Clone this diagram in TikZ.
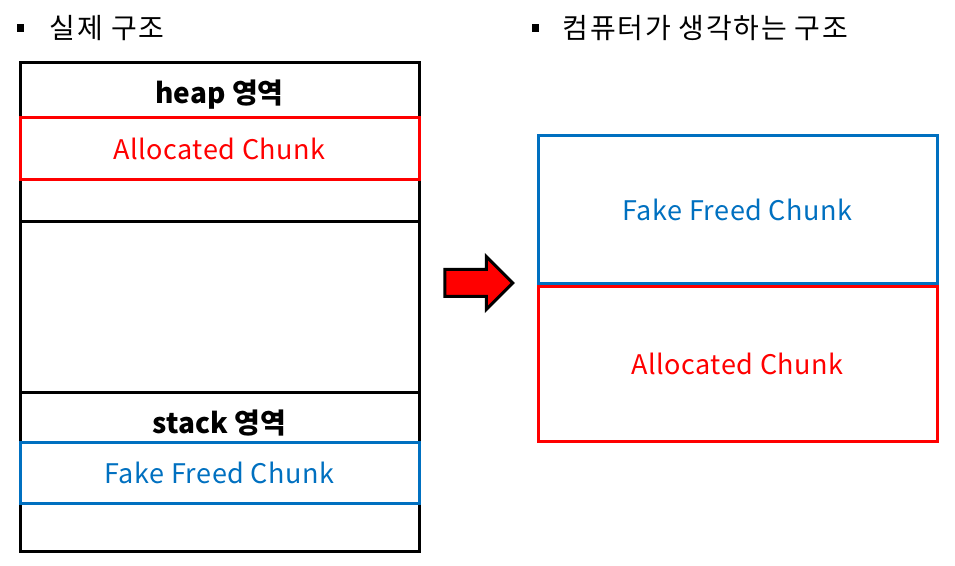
\documentclass[tikz,border=0pt]{standalone}
\usepackage{fontspec}
\setmainfont{Noto Sans CJK KR}
\usetikzlibrary{positioning,shapes.arrows}
\definecolor{chunkred}{HTML}{FF0000}
\definecolor{chunkblue}{HTML}{0070C0}
\tikzset{
  frame/.style={draw=black,line width=3pt,minimum width=399pt,inner sep=0pt},
  region/.style={font=\fontsize{28}{32}\selectfont\bfseries,inner sep=0pt},
  chunk/.style={line width=3pt,minimum width=399pt,inner sep=0pt,
                font=\fontsize{27}{32}\selectfont\addfontfeatures{LetterSpace=2}},
  redchunk/.style={chunk,draw=chunkred,text=chunkred},
  bluechunk/.style={chunk,draw=chunkblue,text=chunkblue},
  bullet/.style={fill=black,minimum width=7pt,minimum height=8pt,inner sep=0pt},
  title/.style={font=\fontsize{28}{32}\selectfont\addfontfeatures{LetterSpace=6},
                inner sep=0pt,anchor=west},
  sep/.style={draw=black,line width=3pt}
}

\begin{document}
\begin{tikzpicture}[x=1pt,y=1pt]
    \useasboundingbox (0,0) rectangle (955,565);
    % titles
    \node[bullet] (b1) at (20,537) {};
    \node[title,right=26pt of b1] (t1) {실제 구조};
    \node[bullet] (b2) at (535,537) {};
    \node[title,right=24pt of b2] (t2) {컴퓨터가 생각하는 구조};
    % real layout
    \node[frame,minimum height=488pt] (mem) at (219.5,258) {};
    \node[region] (heap) at (219.5,470) {heap 영역};
    \node[redchunk,minimum height=62pt] (alloc) at (219.5,416) {Allocated Chunk};
    \coordinate (g1) at (20,343);
    \coordinate (g2) at (20,172);
    \draw[sep] (g1) -- (g1 -| mem.east);
    \draw[sep] (g2) -- (g2 -| mem.east);
    \node[region] (stack) at (219.5,142) {stack 영역};
    \node[bluechunk,minimum height=61pt] (fake) at (219.5,92.5) {Fake Freed Chunk};
    % arrow
    \node[single arrow,draw=black,fill=chunkred,line width=3pt,
          minimum height=68pt,inner xsep=0pt,inner ysep=12pt,
          single arrow head extend=13pt] (arrow) at (472,282) {};
    % what the computer sees
    \node[bluechunk,minimum height=148pt] (fake2) at (737.5,355) {Fake Freed Chunk};
    \node[redchunk,minimum height=154pt] (alloc2) at (737.5,201) {Allocated Chunk};
\end{tikzpicture}
\end{document}
